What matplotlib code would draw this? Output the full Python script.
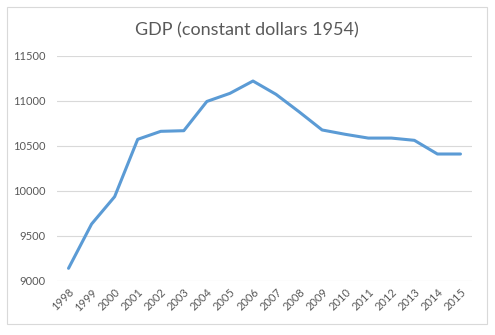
import matplotlib
matplotlib.use("Agg")
import matplotlib.pyplot as plt
from matplotlib.patches import Rectangle

years = [str(y) for y in range(1998, 2016)]
gdp = [9141, 9633, 9937, 10574, 10663, 10670, 10995, 11085, 11222, 11074,
       10880, 10678, 10630, 10588, 10588, 10563, 10411, 10411]
yticks = [9000, 9500, 10000, 10500, 11000, 11500]

plt.rcParams['font.family'] = ['Lato', 'DejaVu Sans']
fig = plt.figure(figsize=(4.95, 3.35), dpi=100)
fig.patches.append(Rectangle((7/495, 1-324/335), (487-7)/495, (324-7)/335,
                             transform=fig.transFigure, fill=False,
                             edgecolor='#d9d9d9', linewidth=0.8))
ax = fig.add_axes([57/495, 1-281/335, (472-57)/495, (281-56)/335])
x = list(range(len(years)))
ax.plot(x, gdp, color='#5b9bd5', linewidth=2.2, solid_joinstyle='round', solid_capstyle='round')
ax.set_xlim(-0.5, len(years)-0.5)
ax.set_ylim(9000, 11500)
ax.set_yticks(yticks)
ax.set_yticklabels([str(v) for v in yticks])
ax.set_xticks(x)
ax.set_xticklabels(years, rotation=45, ha='right', rotation_mode='anchor')
ax.grid(axis='y', color='#d9d9d9', linewidth=0.8)
ax.set_axisbelow(True)
for s in ax.spines.values():
    s.set_visible(False)
ax.tick_params(axis='both', length=0, labelsize=8, labelcolor='#595959')
ax.tick_params(axis='y', pad=8)
ax.tick_params(axis='x', pad=4)
fig.text(247/495, 1-30/335, 'GDP (constant dollars 1954)', ha='center', va='center',
         fontsize=13, color='#595959')
fig.savefig('out.png', dpi=100)
